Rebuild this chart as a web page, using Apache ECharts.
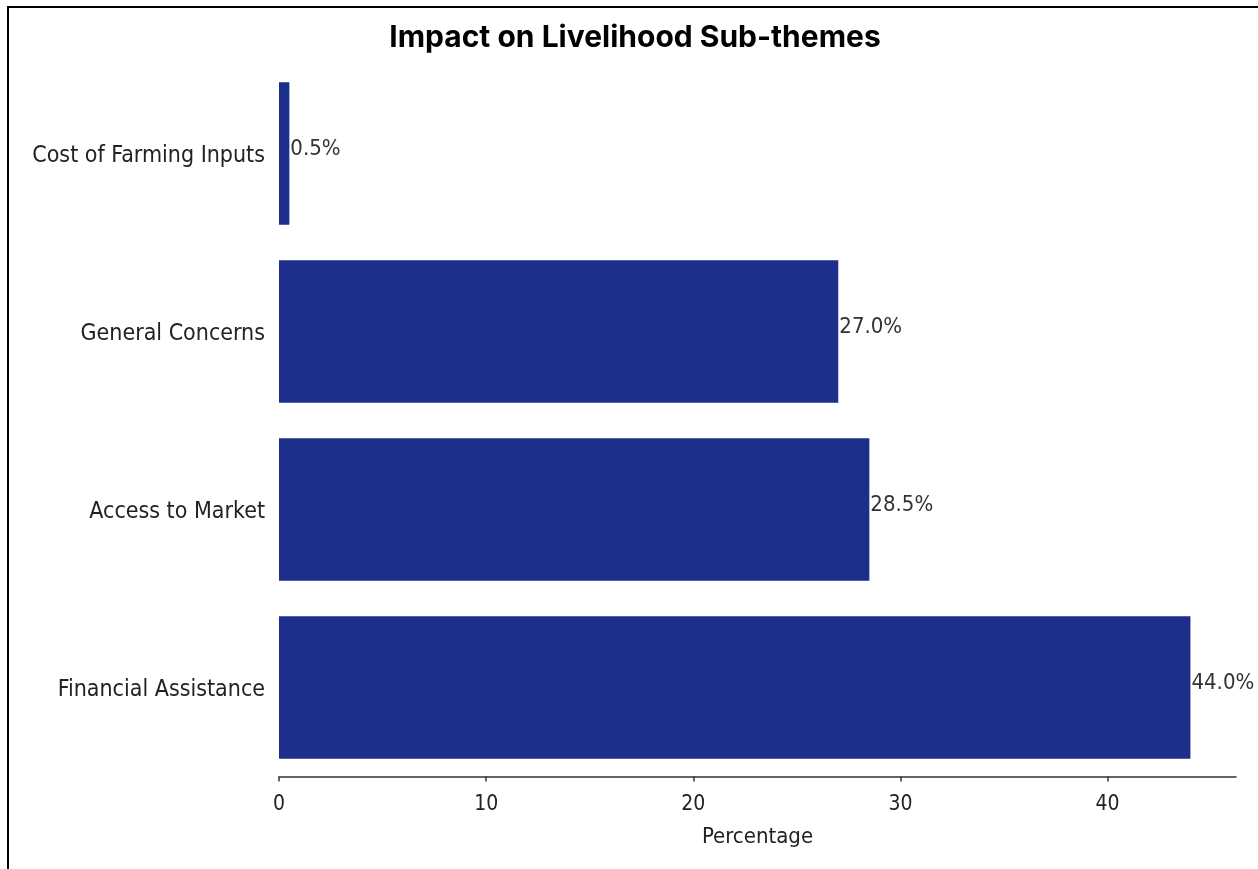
<!DOCTYPE html>
<html>
<head>
<meta charset="utf-8">
<script src="https://cdn.jsdelivr.net/npm/echarts@6/dist/echarts.min.js"></script>
<style>
html,body{margin:0;padding:0;background:#fff;}
#chart{width:1258px;height:869px;}
</style>
</head>
<body>
<div id="chart"></div>
<script>
const categories = ['Financial Assistance', 'Access to Market', 'General Concerns', 'Cost of Farming Inputs'];
const values = [44.0, 28.5, 27.0, 0.5];
const xTicks = [0, 10, 20, 30, 40];
const titleText = 'Impact on Livelihood Sub-themes';
const xName = 'Percentage';

const labelFont = '"DejaVu Sans Condensed", "DejaVu Sans", sans-serif';
const chart = echarts.init(document.getElementById('chart'), null, {renderer: 'canvas'});
chart.setOption({
  backgroundColor: '#ffffff',
  animation: false,
  title: {
    text: titleText,
    left: 630, top: 18, textAlign: 'center',
    textStyle: {fontFamily: 'Inter', fontWeight: 'bold', fontSize: 30, color: '#000'}
  },
  graphic: [
    {type: 'line', shape: {x1: 7, y1: 7, x2: 1258, y2: 7}, style: {stroke: '#000', lineWidth: 2}},
    {type: 'line', shape: {x1: 8, y1: 7, x2: 8, y2: 869}, style: {stroke: '#000', lineWidth: 2}}
  ],
  grid: {left: 279, right: 22, top: 64.5, bottom: 92.5, containLabel: false},
  xAxis: {
    type: 'value', min: 0, max: 46.2, interval: 10,
    name: xName, nameLocation: 'middle', nameGap: 50,
    nameTextStyle: {fontFamily: labelFont, fontSize: 22, color: '#222'},
    axisLine: {show: true, lineStyle: {color: '#333', width: 1.5}},
    axisTick: {show: true, length: 5, lineStyle: {color: '#333', width: 1.5}},
    axisLabel: {
      margin: 18, fontFamily: labelFont, fontSize: 21, color: '#222', showMaxLabel: false,
      formatter: v => xTicks.includes(v) ? String(v) : ''
    },
    splitLine: {show: false}
  },
  yAxis: {
    type: 'category', data: categories,
    axisLine: {show: false}, axisTick: {show: false},
    axisLabel: {
      margin: 14, fontFamily: labelFont, fontSize: 23, color: '#222',
      formatter: v => '{a|' + v + '}',
      rich: {a: {fontFamily: labelFont, fontSize: 23, color: '#222', padding: [6, 0, 0, 0]}}
    }
  },
  series: [{
    type: 'bar', data: values, barCategoryGap: '20%',
    itemStyle: {color: '#1e2e8b'},
    label: {
      show: true, position: 'right', distance: 1, offset: [0, -4],
      fontFamily: labelFont, fontSize: 22, color: '#333',
      formatter: p => p.value.toFixed(1) + '%'
    }
  }]
});
</script>
</body>
</html>
